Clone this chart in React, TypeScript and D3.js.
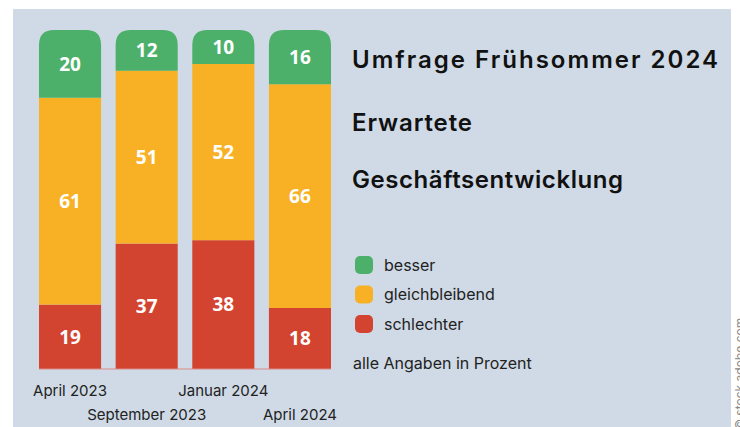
import React from "react";
import * as d3 from "d3";

const categories = ["April 2023", "September 2023", "Januar 2024", "April 2024"];
const besser = [20, 12, 10, 16];
const gleichbleibend = [61, 51, 52, 66];
const schlechter = [19, 37, 38, 18];

const seriesKeys = ["schlechter", "gleichbleibend", "besser"];
const legendKeys = ["besser", "gleichbleibend", "schlechter"];
const colors: Record<string, string> = {
  besser: "#4cb06a",
  gleichbleibend: "#f8b124",
  schlechter: "#d34430",
};

const W = 740;
const H = 427;
const FONT = "Inter, 'Noto Sans', sans-serif";

const rows = categories.map((c, i) => ({
  cat: c,
  besser: besser[i],
  gleichbleibend: gleichbleibend[i],
  schlechter: schlechter[i],
}));

function topRounded(x: number, y: number, w: number, h: number, r: number) {
  return `M${x},${y + h}V${y + r}Q${x},${y} ${x + r},${y}H${x + w - r}Q${x + w},${y} ${x + w},${y + r}V${y + h}Z`;
}

export default function App() {
  const x = d3.scaleBand().domain(categories).range([39, 331]).paddingInner(0.19);
  const y = d3.scaleLinear().domain([0, 100]).range([369, 30]);
  const stacked = d3.stack<any>().keys(seriesKeys)(rows);

  return (
    <svg width={W} height={H} style={{ display: "block", position: "absolute", left: 0, top: 0 }}>
      <rect x={0} y={0} width={W} height={H} fill="#fff" />
      <rect x={13} y={9} width={718} height={H - 9} fill="#cfdae6" />

      {stacked.map((s) => (
        <g key={s.key}>
          {s.map((d, i) => {
            const bx = x(categories[i])!;
            const y0 = y(d[1]);
            const h = y(d[0]) - y(d[1]);
            const isTop = s.key === "besser";
            return (
              <g key={i}>
                {isTop ? (
                  <path d={topRounded(bx, y0, x.bandwidth(), h, 15)} fill={colors[s.key]} />
                ) : (
                  <rect x={bx} y={y0} width={x.bandwidth()} height={h} fill={colors[s.key]} />
                )}
                <text
                  x={bx + x.bandwidth() / 2}
                  y={y0 + h / 2}
                  dy="0.36em"
                  textAnchor="middle"
                  fill="#fff"
                  fontFamily="'Noto Sans', sans-serif"
                  fontWeight={700}
                  fontSize={19}
                >
                  {d[1] - d[0]}
                </text>
              </g>
            );
          })}
        </g>
      ))}

      <line x1={39} x2={331} y1={369} y2={369} stroke="#d98a86" strokeWidth={1} />

      {categories.map((c, i) => (
        <text
          key={c}
          x={x(c)! + x.bandwidth() / 2}
          y={i % 2 === 0 ? 396 : 420}
          textAnchor="middle"
          fill="#222"
          fontFamily={FONT}
          fontSize={15}
        >
          {c}
        </text>
      ))}

      <g fontFamily={FONT} fontWeight={600} fill="#111" fontSize={24}>
        <text x={352} y={68} textLength={366} lengthAdjust="spacing">Umfrage Frühsommer 2024</text>
        <text x={352} y={131} textLength={120} lengthAdjust="spacing">Erwartete</text>
        <text x={352} y={188} textLength={271} lengthAdjust="spacing">Geschäftsentwicklung</text>
      </g>

      {legendKeys.map((k, i) => (
        <g key={k} transform={`translate(355,${256 + i * 29.5})`}>
          <rect width={18} height={18} rx={5} fill={colors[k]} />
          <text x={29} y={9} dy="0.35em" fill="#222" fontFamily={FONT} fontSize={16}>
            {k}
          </text>
        </g>
      ))}
      <text x={353} y={369} fill="#222" fontFamily={FONT} fontSize={16}>
        alle Angaben in Prozent
      </text>

      <text
        transform="translate(744,430) rotate(-90)"
        fill="#888"
        fontFamily={FONT}
        fontSize={12}
      >
        © stock.adobe.com
      </text>
    </svg>
  );
}
